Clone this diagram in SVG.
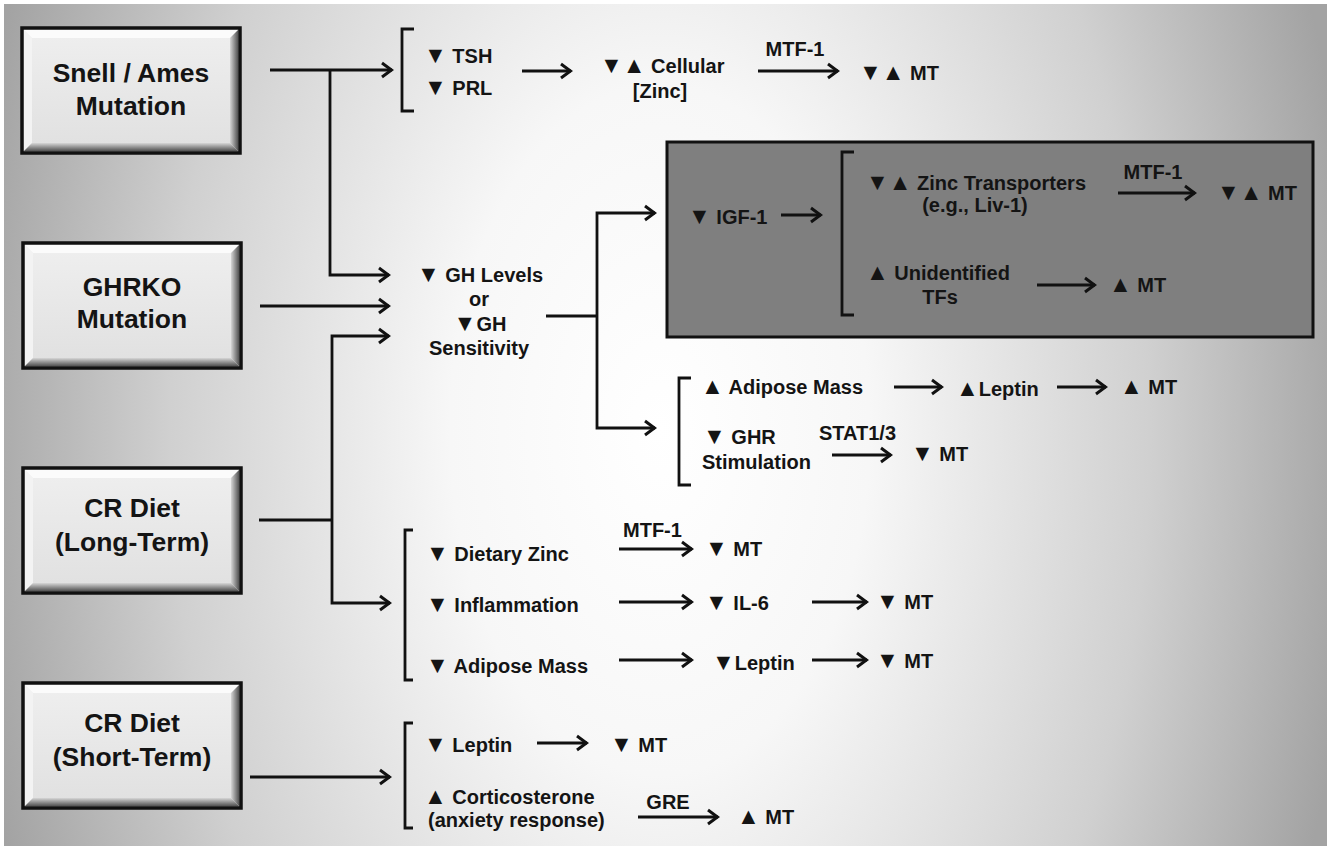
<svg xmlns="http://www.w3.org/2000/svg" xmlns:xlink="http://www.w3.org/1999/xlink" width="1333" height="846" viewBox="0 0 1333 846">
<defs>
<radialGradient id="bg" gradientUnits="userSpaceOnUse" cx="0" cy="0" r="1" gradientTransform="translate(660 430) scale(700 1150)">
<stop offset="0" stop-color="#ffffff"/>
<stop offset="0.3" stop-color="#f7f7f7"/>
<stop offset="0.7" stop-color="#d0d0d0"/>
<stop offset="1" stop-color="#a3a3a3"/>
</radialGradient>
<linearGradient id="face" x1="0" y1="0" x2="0" y2="1">
<stop offset="0" stop-color="#efefef"/>
<stop offset="1" stop-color="#e0e0e0"/>
</linearGradient>
<linearGradient id="shB" x1="0" y1="0" x2="0" y2="1">
<stop offset="0" stop-color="#d6d6d6"/>
<stop offset="1" stop-color="#4a4a4a"/>
</linearGradient>
<linearGradient id="shR" x1="0" y1="0" x2="1" y2="0">
<stop offset="0" stop-color="#d6d6d6"/>
<stop offset="1" stop-color="#4a4a4a"/>
</linearGradient>
<g id="bevel">
<rect x="0" y="0" width="218" height="125" fill="url(#face)"/>
<polygon points="1.5,1.5 216.5,1.5 208,10 10,10" fill="#fbfbfb"/>
<polygon points="1.5,1.5 10,10 10,115 1.5,123.5" fill="#f3f3f3"/>
<polygon points="1.5,123.5 216.5,123.5 208,115 10,115" fill="url(#shB)"/>
<polygon points="216.5,1.5 216.5,123.5 208,115 208,10" fill="url(#shR)"/>
<rect x="0" y="0" width="218" height="125" fill="none" stroke="#111" stroke-width="3.5"/>
</g>
<marker id="ah" markerUnits="userSpaceOnUse" markerWidth="16" markerHeight="18" viewBox="0 0 16 18" refX="14" refY="9" orient="auto">
<path d="M4,2 L13.5,9 L4,16" fill="none" stroke="#111" stroke-width="3"/>
</marker>
</defs>
<style>
.t{font-family:"Liberation Sans",Arial,sans-serif;font-weight:bold;font-size:20px;fill:#141414}
.m{text-anchor:middle}
.tri{font-size:23px}
.bt{font-family:"Liberation Sans",Arial,sans-serif;font-weight:bold;font-size:26.5px;fill:#141414;text-anchor:middle}
.ln{fill:none;stroke:#111;stroke-width:2.8}
.ar{fill:none;stroke:#111;stroke-width:2.8;marker-end:url(#ah)}
</style>
<rect x="4" y="4" width="1323" height="842" fill="url(#bg)"/>

<g id="snell">
<use xlink:href="#bevel" x="22" y="28"/>
<text class="bt" x="131" y="82">Snell / Ames</text>
<text class="bt" x="131" y="115">Mutation</text>
</g>
<g id="ghrko">
<use xlink:href="#bevel" x="23" y="243"/>
<text class="bt" x="132" y="296">GHRKO</text>
<text class="bt" x="132" y="328">Mutation</text>
</g>
<g id="cr-long">
<use xlink:href="#bevel" x="23" y="468"/>
<text class="bt" x="132" y="517">CR Diet</text>
<text class="bt" x="132" y="551">(Long-Term)</text>
</g>
<g id="cr-short">
<use xlink:href="#bevel" x="23" y="683"/>
<text class="bt" x="132" y="732">CR Diet</text>
<text class="bt" x="132" y="766">(Short-Term)</text>
</g>

<g id="pituitary">
<path class="ln" d="M414,29 H402 V111 H414"/>
<text class="t" x="424" y="63"><tspan class="tri">▼</tspan> TSH</text>
<text class="t" x="424" y="95"><tspan class="tri">▼</tspan> PRL</text>
</g>
<g id="cellular-zinc">
<text class="t" x="600" y="73"><tspan class="tri">▼▲</tspan> Cellular</text>
<text class="t m" x="660" y="98">[Zinc]</text>
<text class="t m" x="795" y="56">MTF-1</text>
</g>
<g id="mt-top">
<text class="t" x="859" y="80"><tspan class="tri">▼▲</tspan> MT</text>
</g>
<g id="gh">
<text class="t m" x="480" y="282"><tspan class="tri">▼</tspan> GH Levels</text>
<text class="t m" x="479" y="306">or</text>
<text class="t m" x="480" y="331"><tspan class="tri">▼</tspan>GH</text>
<text class="t m" x="479" y="355">Sensitivity</text>
</g>
<g id="igf1-box">
<rect x="667" y="142" width="646" height="195" fill="#7f7f7f" stroke="#111" stroke-width="3"/>
<text class="t" x="688" y="224"><tspan class="tri">▼</tspan> IGF-1</text>
<path class="ln" d="M854,152 H842 V315 H854"/>
<text class="t" x="866" y="190"><tspan class="tri">▼▲</tspan> Zinc Transporters</text>
<text class="t m" x="975" y="212">(e.g., Liv-1)</text>
<text class="t m" x="1153" y="179">MTF-1</text>
<text class="t" x="1217" y="200"><tspan class="tri">▼▲</tspan> MT</text>
<text class="t" x="866" y="280"><tspan class="tri">▲</tspan> Unidentified</text>
<text class="t m" x="940" y="304">TFs</text>
<text class="t" x="1109" y="292"><tspan class="tri">▲</tspan> MT</text>
</g>
<g id="adipose-ghr">
<path class="ln" d="M691,378 H679 V485 H691"/>
<text class="t" x="701" y="394"><tspan class="tri">▲</tspan> Adipose Mass</text>
<text class="t" x="956" y="396"><tspan class="tri">▲</tspan>Leptin</text>
<text class="t" x="1120" y="394"><tspan class="tri">▲</tspan> MT</text>
<text class="t" x="703" y="444"><tspan class="tri">▼</tspan> GHR</text>
<text class="t" x="702" y="469">Stimulation</text>
<text class="t" x="819" y="440">STAT1/3</text>
<text class="t" x="911" y="461"><tspan class="tri">▼</tspan> MT</text>
</g>
<g id="cr-long-effects">
<path class="ln" d="M413,530 H405 V680 H413"/>
<text class="t" x="426" y="561"><tspan class="tri">▼</tspan> Dietary Zinc</text>
<text class="t" x="623" y="537">MTF-1</text>
<text class="t" x="705" y="556"><tspan class="tri">▼</tspan> MT</text>
<text class="t" x="426" y="612"><tspan class="tri">▼</tspan> Inflammation</text>
<text class="t" x="705" y="610"><tspan class="tri">▼</tspan> IL-6</text>
<text class="t" x="876" y="609"><tspan class="tri">▼</tspan> MT</text>
<text class="t" x="426" y="673"><tspan class="tri">▼</tspan> Adipose Mass</text>
<text class="t" x="712" y="670"><tspan class="tri">▼</tspan>Leptin</text>
<text class="t" x="876" y="668"><tspan class="tri">▼</tspan> MT</text>
</g>
<g id="cr-short-effects">
<path class="ln" d="M413,723 H405 V828 H413"/>
<text class="t" x="424" y="752"><tspan class="tri">▼</tspan> Leptin</text>
<text class="t" x="610" y="752"><tspan class="tri">▼</tspan> MT</text>
<text class="t" x="424" y="804"><tspan class="tri">▲</tspan> Corticosterone</text>
<text class="t" x="428" y="827">(anxiety response)</text>
<text class="t m" x="668" y="809">GRE</text>
<text class="t" x="737" y="824"><tspan class="tri">▲</tspan> MT</text>
</g>

<g id="connectors">
<path class="ar" d="M270,70 H392"/>
<path class="ar" d="M330,70 V275 H389"/>
<path class="ar" d="M260,306 H389"/>
<path class="ln" d="M259,520 H332"/>
<path class="ar" d="M332,520 V336 H389"/>
<path class="ar" d="M332,520 V603 H390"/>
<path class="ar" d="M250,777 H390"/>
<path class="ln" d="M546,316 H597"/>
<path class="ar" d="M597,316 V213 H655"/>
<path class="ar" d="M597,316 V428 H655"/>
<path class="ar" d="M522,71 H571"/>
<path class="ar" d="M758,71 H838"/>
<path class="ar" d="M781,215 H821"/>
<path class="ar" d="M1118,193 H1195"/>
<path class="ar" d="M1037,285 H1095"/>
<path class="ar" d="M894,387 H942"/>
<path class="ar" d="M1057,387 H1106"/>
<path class="ar" d="M832,455 H891"/>
<path class="ar" d="M619,549 H692"/>
<path class="ar" d="M619,602 H692"/>
<path class="ar" d="M812,602 H867"/>
<path class="ar" d="M619,660 H692"/>
<path class="ar" d="M812,660 H867"/>
<path class="ar" d="M537,743 H587"/>
<path class="ar" d="M638,817 H718"/>
</g>
</svg>
